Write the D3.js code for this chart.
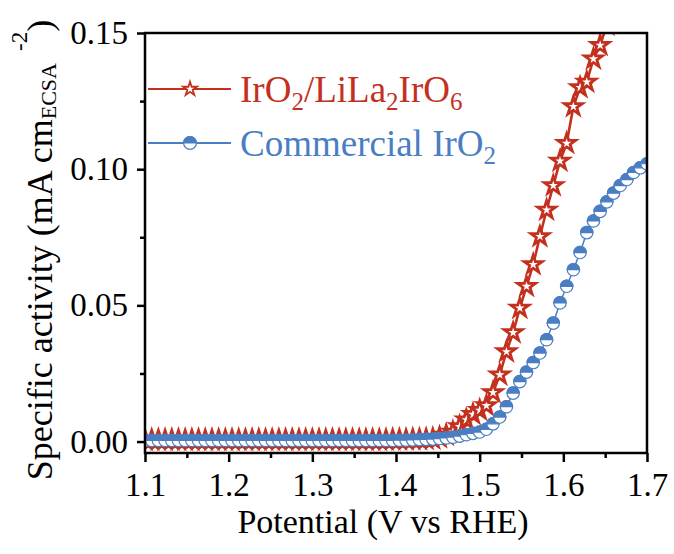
<!DOCTYPE html>
<html>
<head>
<meta charset="utf-8">
<script src="https://cdn.jsdelivr.net/npm/d3@7"></script>
<style>
  body { margin: 0; background: #fff; }
  text { font-family: "Liberation Serif", "Times New Roman", serif; }
</style>
</head>
<body>
<svg id="chart" width="674" height="554"></svg>
<script>
// potential grid (V vs RHE), shared by both curves
let potential = [1.100,1.108,1.116,1.124,1.132,1.140,1.148,1.156,1.164,1.172,
  1.180,1.188,1.196,1.204,1.212,1.220,1.228,1.236,1.244,1.252,
  1.260,1.268,1.276,1.284,1.292,1.300,1.308,1.316,1.324,1.332,
  1.340,1.348,1.356,1.364,1.372,1.380,1.388,1.396,1.404,1.412,
  1.420,1.428,1.436,1.444,1.452,1.460,1.468,1.476,1.484,1.492,
  1.500,1.508,1.516,1.524,1.532,1.540,1.548,1.556,1.564,1.572,
  1.580,1.588,1.596,1.604,1.612,1.620,1.628,1.636,1.644,1.652,
  1.660,1.668,1.676,1.684,1.692,1.700];

// IrO2/LiLa2IrO6 (mA cm-2 ECSA), ends once it leaves the top of the plot
let redValues = [0.0006,0.0006,0.0006,0.0006,0.0006,0.0006,0.0006,0.0006,0.0006,0.0006,
  0.0006,0.0006,0.0006,0.0006,0.0006,0.0006,0.0006,0.0006,0.0006,0.0006,
  0.0006,0.0006,0.0006,0.0006,0.0006,0.0006,0.0006,0.0006,0.0006,0.0006,
  0.0006,0.0006,0.0006,0.0006,0.0006,0.0006,0.0006,0.0007,0.0007,0.0007,
  0.0008,0.0008,0.0009,0.0010,0.0015,0.0024,0.0035,0.0055,0.0080,0.0100,
  0.0115,0.0132,0.0180,0.0245,0.0330,0.0400,0.0490,0.0570,0.0650,0.0753,
  0.0850,0.0940,0.1030,0.1095,0.1230,0.1300,0.1320,0.1405,0.1455,0.1530];

// Commercial IrO2
let blueValues = [0.0004,0.0004,0.0004,0.0004,0.0004,0.0004,0.0004,0.0004,0.0004,0.0004,
  0.0004,0.0004,0.0004,0.0004,0.0004,0.0004,0.0004,0.0004,0.0004,0.0004,
  0.0004,0.0004,0.0004,0.0004,0.0004,0.0004,0.0004,0.0004,0.0004,0.0004,
  0.0004,0.0004,0.0004,0.0004,0.0004,0.0004,0.0004,0.0004,0.0005,0.0005,
  0.0006,0.0007,0.0008,0.0009,0.0011,0.0013,0.0016,0.0020,0.0025,0.0030,
  0.0035,0.0045,0.0065,0.0090,0.0128,0.0178,0.0220,0.0255,0.0290,0.0325,
  0.0374,0.0435,0.0509,0.0570,0.0631,0.0694,0.0767,0.0810,0.0845,0.0880,
  0.0912,0.0940,0.0962,0.0988,0.1005,0.1020];

let xTicks = [1.1, 1.2, 1.3, 1.4, 1.5, 1.6, 1.7];
let xMinorTicks = [1.15, 1.25, 1.35, 1.45, 1.55, 1.65];
let yTicks = [0.00, 0.05, 0.10, 0.15];
let yMinorTicks = [0.025, 0.075, 0.125];

let red = "#C4301E";
let blue = "#4A7EC2";
let serif = "'Liberation Serif', 'Times New Roman', serif";

let svg = d3.select("#chart");
let margin = { top: 33, right: 27, bottom: 101, left: 145 };
let plotWidth = 674 - margin.left - margin.right;
let plotHeight = 554 - margin.top - margin.bottom;

let xScale = d3.scaleLinear().domain([1.1, 1.7]).range([0, plotWidth]);
let yScale = d3.scaleLinear().domain([-0.0042, 0.15]).range([plotHeight, 0]);

let plot = svg.append("g")
  .attr("transform", "translate(" + margin.left + "," + margin.top + ")");

plot.append("clipPath").attr("id", "clip")
  .append("rect").attr("width", plotWidth).attr("height", plotHeight);

let data = plot.append("g").attr("clip-path", "url(#clip)");

// red curve: line + open stars with heavy outline
let redPts = redValues.map((v, i) => [potential[i], v]);
let line = d3.line().x(d => xScale(d[0])).y(d => yScale(d[1]));
data.append("path").datum(redPts)
  .attr("d", line).attr("fill", "none")
  .attr("stroke", red).attr("stroke-width", 2.6);
let star = d3.symbol(d3.symbolStar, 100);
data.selectAll("path.star").data(redPts).enter().append("path")
  .attr("class", "star")
  .attr("d", star)
  .attr("transform", d => "translate(" + xScale(d[0]) + "," + yScale(d[1]) + ")")
  .attr("fill", "#fff").attr("stroke", red).attr("stroke-width", 2.8);

// blue curve: line + half filled circles
let bluePts = blueValues.map((v, i) => [potential[i], v]);
data.append("path").datum(bluePts)
  .attr("d", line).attr("fill", "none")
  .attr("stroke", blue).attr("stroke-width", 1.5);

function halfCircle(g, r) {
  g.append("circle").attr("r", r).attr("fill", "#fff")
    .attr("stroke", blue).attr("stroke-width", 1.2);
  g.append("path")
    .attr("d", "M" + (-r) + ",0A" + r + "," + r + " 0 0 1 " + r + ",0Z")
    .attr("fill", blue).attr("stroke", blue).attr("stroke-width", 1.2);
}
data.selectAll("g.circ").data(bluePts).enter().append("g")
  .attr("class", "circ")
  .attr("transform", d => "translate(" + xScale(d[0]) + "," + yScale(d[1]) + ")")
  .each(function() { halfCircle(d3.select(this), 6.2); });

// frame
plot.append("rect")
  .attr("width", plotWidth).attr("height", plotHeight)
  .attr("fill", "none").attr("stroke", "#000").attr("stroke-width", 2.5);

// axes
let xAxis = plot.append("g").attr("transform", "translate(0," + plotHeight + ")")
  .call(d3.axisBottom(xScale).tickValues(xTicks).tickFormat(d3.format(".1f"))
    .tickSize(9).tickPadding(11));
let xMinor = plot.append("g").attr("transform", "translate(0," + plotHeight + ")")
  .call(d3.axisBottom(xScale).tickValues(xMinorTicks).tickFormat("").tickSize(5));
let yAxis = plot.append("g")
  .call(d3.axisLeft(yScale).tickValues(yTicks).tickFormat(d3.format(".2f"))
    .tickSize(8).tickPadding(9));
let yMinor = plot.append("g")
  .call(d3.axisLeft(yScale).tickValues(yMinorTicks).tickFormat("").tickSize(5));

[xAxis, xMinor, yAxis, yMinor].forEach(ax => {
  ax.attr("font-family", serif).attr("font-size", 33);
  ax.select(".domain").remove();
  ax.selectAll("line").attr("stroke", "#000").attr("stroke-width", 2.5);
  ax.selectAll("text").attr("font-size", 33).attr("fill", "#000")
    .style("font-family", serif);
});

// axis titles
svg.append("text")
  .attr("x", 383).attr("y", 533)
  .attr("text-anchor", "middle").attr("font-size", 34)
  .text("Potential (V vs RHE)");

let yTitle = svg.append("text")
  .attr("transform", "translate(52,250) rotate(-90)")
  .attr("text-anchor", "middle").attr("font-size", 36);
yTitle.append("tspan").text("Specific activity (mA cm");
yTitle.append("tspan").attr("font-size", 22).attr("dy", 4).text("ECSA");
yTitle.append("tspan").attr("font-size", 23).attr("dx", 12).attr("dy", -29).text("-2");
yTitle.append("tspan").attr("font-size", 36).attr("dy", 25).text(")");

// legend
let legend = svg.append("g");
let legendItems = [
  { color: red, y: 89, base: 102, parts: [["IrO", 0], ["2", 1], ["/LiLa", 0], ["2", 1], ["IrO", 0], ["6", 1]] },
  { color: blue, y: 143, base: 156, parts: [["Commercial IrO", 0], ["2", 1]] }
];
legendItems.forEach((item, k) => {
  legend.append("line")
    .attr("x1", 148).attr("x2", 231).attr("y1", item.y).attr("y2", item.y)
    .attr("stroke", item.color).attr("stroke-width", 2.2);
  let g = legend.append("g").attr("transform", "translate(190," + item.y + ")");
  if (k === 0) {
    g.append("path").attr("d", d3.symbol(d3.symbolStar, 60))
      .attr("fill", "#fff").attr("stroke", red).attr("stroke-width", 1.8);
  } else {
    halfCircle(g, 6.4);
  }
  let t = legend.append("text").attr("x", 240).attr("y", item.base)
    .attr("font-size", 37).attr("fill", item.color);
  let shifted = false;
  item.parts.forEach(p => {
    let ts = t.append("tspan").text(p[0]);
    if (p[1] && !shifted) { ts.attr("font-size", 25).attr("dy", 8); shifted = true; }
    else if (!p[1] && shifted) { ts.attr("font-size", 37).attr("dy", -8); shifted = false; }
    else if (p[1]) ts.attr("font-size", 25);
  });
});
</script>
</body>
</html>
